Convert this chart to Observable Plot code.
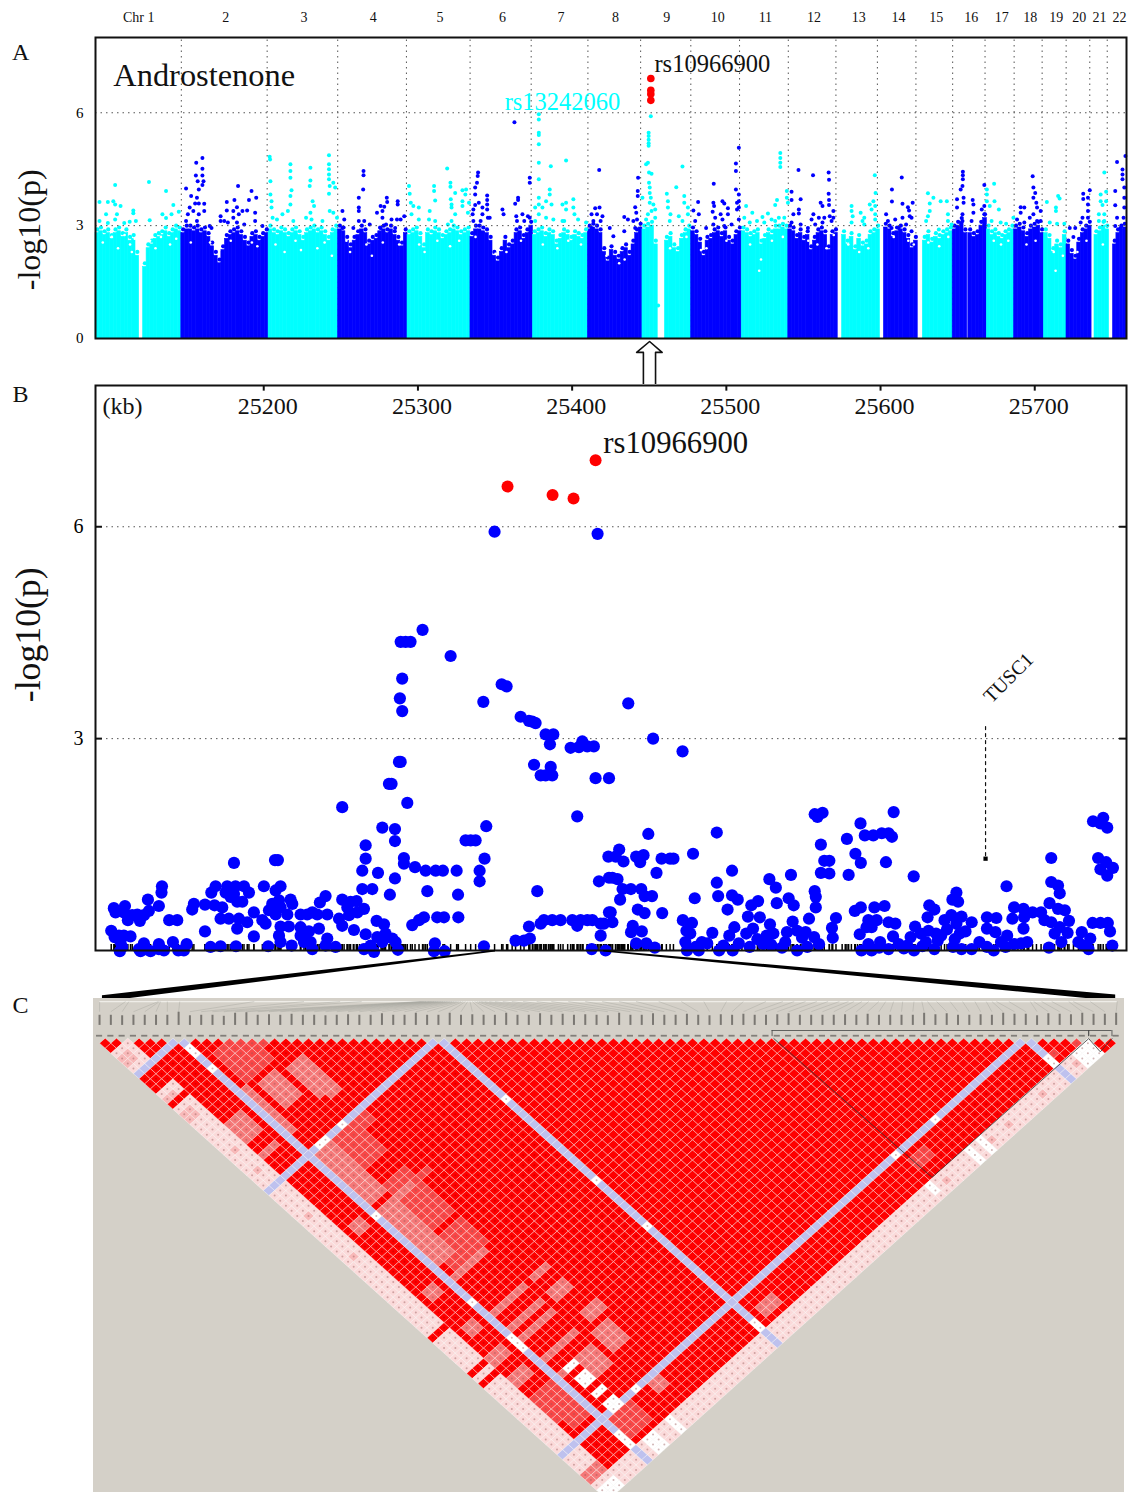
<!DOCTYPE html>
<html><head><meta charset="utf-8">
<script src="https://cdn.jsdelivr.net/npm/d3@7"></script>
<script src="https://cdn.jsdelivr.net/npm/@observablehq/plot@0.6"></script>
<style>html,body{margin:0;padding:0;background:#fff;overflow:hidden}svg{display:block;background:transparent}
#chart{position:relative;width:1129px;height:1492px;overflow:hidden}
#chart svg{position:absolute;left:0}</style>
</head><body><div id="chart"></div>
<script>
const serif = "Liberation Serif";
const CYAN = "#00FFFF", BLUE = "#0000FF", RED = "#FF0000";

// ---------- Panel A: genome position (approx. Mb along the concatenated autosomes) ----------
const chrNames = ["Chr 1","2","3","4","5","6","7","8","9","10","11","12","13","14","15","16","17","18","19","20","21","22"];
const chrLabelPos = [119,358,573,764,947,1119,1280,1430,1571,1711,1842,1976,2099,2208,2312,2408,2492,2570,2642,2705,2761,2816];
const chrBoundaries = [236,472,666,855,1030,1198,1354,1499,1637,1771,1905,2036,2150,2256,2357,2446,2526,2603,2669,2734,2782];

const chr1aTops=[2.9,2.95,2.85,2.9,2.75,2.9,2.95,2.8,2.9,2.7,2.75,2.3];
const chr1bTops=[2.0,2.5,2.6,2.75,2.8,2.85,2.95,2.8,2.9,3.0,2.95];
const chr2Tops=[2.9,3.0,3.0,2.95,3.0,2.9,2.95,2.8,2.55,2.3,2.1,2.45,2.75,2.85,2.9,2.95,2.85,2.7,2.55,2.8,2.85,2.7,2.8,2.9];
const chr3Tops=[3.0,2.9,2.85,2.95,2.9,2.8,2.9,2.95,2.85,2.7,2.9,2.95,3.0,2.9,2.95,2.85,2.7,2.9,3.0];
const chr4Tops=[3.0,2.95,2.7,2.5,2.7,2.85,3.0,2.9,2.6,2.7,2.75,2.95,3.0,2.9,3.0,2.85,2.7,2.55,2.9];
const chr5Tops=[2.85,2.9,2.95,2.8,2.5,2.9,2.85,2.95,2.9,2.75,2.85,2.9,3.0,2.95,2.85,2.9,2.95];
const chr6Tops=[2.8,3.0,3.0,2.95,2.9,2.7,2.3,2.15,2.4,2.7,2.5,2.6,2.9,2.95,2.75,2.9,3.1];
const chr7Tops=[2.85,2.9,2.95,2.8,2.9,2.85,2.6,2.75,2.9,2.85,2.7,2.85,2.8,2.75,2.9];
const chr8Tops=[3.0,3.05,3.0,2.9,2.4,2.15,2.45,2.3,2.2,2.4,2.5,2.3,2.6,2.9,3.05];
const chr9aTops=[3.0,3.05,3.1,2.6];
const chr9bTops=[2.7,2.8,2.5,2.4,2.75,2.9,3.0];
const chr10Tops=[2.95,2.85,2.65,2.3,2.7,2.75,2.9,2.95,2.8,2.95,2.7,2.6,2.85,2.95];
const chr11Tops=[2.95,2.9,2.8,2.85,2.9,2.6,2.75,2.9,2.85,3.0,3.0,3.05,3.0];
const chr12Tops=[3.0,2.95,2.75,2.9,2.7,2.85,2.45,2.7,2.9,2.95,2.85,2.45,2.85,2.9];
const chr13Tops=[2.85,2.6,2.8,2.45,2.75,2.55,2.6,2.85,2.9,3.0];
const chr14Tops=[3.05,3.0,2.8,2.95,3.0,2.9,2.75,2.5,2.7];
const chr15Tops=[2.7,2.85,2.65,2.8,2.75,2.85,2.9,2.95];
const chr16aTops=[3.0,3.1,3.2,2.9];
const chr16bTops=[2.9,2.8,2.85,3.1,3.3];
const chr17Tops=[3.0,2.85,2.9,2.8,2.75,2.85,2.9,3.0];
const chr18Tops=[3.0,3.05,2.95,2.8,3.0,3.05,3.1,2.9];
const chr19Tops=[2.9,2.75,2.4,2.6,2.5,2.85];
const chr20Tops=[2.6,2.35,2.2,2.65,2.9,3.0,3.1];
const chr21Tops=[2.85,2.95,3.1,3.0];
const chr22Tops=[2.6,2.9,3.0,3.05];
const bodySegments=[
 [0,120,CYAN,chr1aTops],[131,236,CYAN,chr1bTops],[236,476,BLUE,chr2Tops],[476,667,CYAN,chr3Tops],
 [667,858,BLUE,chr4Tops],[858,1031,CYAN,chr5Tops],[1031,1203,BLUE,chr6Tops],[1203,1354,CYAN,chr7Tops],
 [1354,1504,BLUE,chr8Tops],[1504,1546,CYAN,chr9aTops],[1566,1638,CYAN,chr9bTops],[1638,1777,BLUE,chr10Tops],
 [1777,1905,CYAN,chr11Tops],[1905,2041,BLUE,chr12Tops],[2053,2157,CYAN,chr13Tops],[2168,2261,BLUE,chr14Tops],
 [2275,2357,CYAN,chr15Tops],[2357,2397,BLUE,chr16aTops],[2400,2451,BLUE,chr16bTops],[2451,2526,CYAN,chr17Tops],
 [2526,2608,BLUE,chr18Tops],[2608,2670,CYAN,chr19Tops],[2670,2739,BLUE,chr20Tops],[2747,2787,CYAN,chr21Tops],[2798,2835,BLUE,chr22Tops]];
// gaps in the dense lower cloud, where no SNP reaches that height
const cloudHoles=[[20,2.55],[45,2.7],[62,2.4],[80,2.75],[95,2.5],[108,2.65],[100,2.3],[150,2.6],[165,2.4],[180,2.7],[205,2.5],[222,2.65],
[262,2.55],[315,2.55],[340,2.35],[372,2.6],[430,2.55],[445,2.45],[495,2.5],[520,2.3],[550,2.6],[565,2.35],[610,2.4],[630,2.55],[650,2.2],
[690,2.6],[700,2.3],[745,2.5],[760,2.2],[790,2.55],[835,2.5],[890,2.5],[905,2.3],[940,2.6],[975,2.45],[1000,2.6],[1045,2.7],[1100,2.25],[1130,2.3],[1170,2.6],
[1230,2.5],[1270,2.4],[1300,2.6],[1335,2.5],[1405,2.2],[1440,2.0],[1455,2.1],[1580,2.4],[1600,2.55],[1625,2.7],[1665,2.35],[1680,2.4],[1735,2.6],
[1800,2.5],[1830,2.1],[1825,1.8],[1860,2.6],[1890,2.7],[1960,2.6],[1985,2.5],[2010,2.4],[2030,2.75],[2070,2.5],[2100,2.3],[2125,2.4],[2195,2.7],[2235,2.6],[2250,2.5],
[2290,2.55],[2320,2.45],[2345,2.7],[2470,2.6],[2490,2.5],[2510,2.6],[2560,2.5],[2585,2.6],[2635,2.3],[2640,1.8],[2660,2.2],[2700,2.3],[2725,2.6],[2770,2.5]];

const cyanHits=[[54,4.08],[147,4.16],[194,3.92],[11,3.63],[34,3.63],[49,3.65],[54,3.56],[69,3.52],[29,3.3],[104,3.33],[104,3.4],[214,3.55],[184,3.3],[194,3.2],[209,3.3],[229,3.37],[59,3.3],[54,3.16],[79,3.07],[94,3.1],[111,3.12],[149,3.14],[11,3.12],[34,3.07],
[480,4.76],[479,4.83],[536,4.63],[536,4.45],[536,4.27],[481,4.18],[591,4.54],[591,4.2],[589,4.05],[539,3.94],[481,3.83],[484,3.65],[484,3.48],[536,3.79],[536,3.56],[642,4.87],[642,4.63],[642,4.5],[642,4.36],[642,4.23],[644,4.05],[642,3.85],[654,4.14],[659,4.01],[597,3.65],[601,3.52],[591,3.34],[529,3.39],[487,3.21],[499,3.16],[514,3.3],[544,3.12],[579,3.21],[594,3.16],[644,3.39],[654,3.34],[624,3.12],[664,3.21],
[967,4.52],[862,4.05],[864,3.85],[931,4.05],[931,3.92],[976,4.14],[976,4.03],[989,3.87],[1009,3.94],[1019,3.96],[1017,3.83],[867,3.61],[874,3.52],[889,3.48],[934,3.67],[977,3.7],[979,3.56],[1009,3.65],[1009,3.52],[1027,3.61],[919,3.39],[979,3.48],[869,3.3],[889,3.16],[917,3.16],[934,3.12],[979,3.12],[989,3.3],[1024,3.34],[969,3.03],
[1219,5.96],[1219,5.82],[1219,5.47],[1219,5.41],[1219,5.16],[1219,4.67],[1252,4.58],[1294,4.73],[1219,4.23],[1219,3.74],[1249,3.96],[1249,3.83],[1239,3.65],[1219,3.56],[1209,3.48],[1254,3.56],[1229,3.48],[1294,3.61],[1284,3.56],[1314,3.7],[1314,3.48],[1317,3.3],[1294,3.43],[1327,3.16],[1284,3.12],[1349,3.08],[1219,3.3],[1239,3.21],[1259,3.16],[1289,3.12],[1209,3.12],
[1527,5.91],[1521,5.47],[1521,5.38],[1521,5.28],[1521,5.19],[1521,5.12],[1519,4.67],[1514,4.63],[1522,4.41],[1529,4.38],[1522,4.14],[1524,4.01],[1524,3.87],[1527,3.74],[1524,3.61],[1534,3.56],[1504,3.74],[1539,3.43],[1529,3.39],[1539,3.21],[1514,3.16],[1519,3.3],[1614,4.57],[1597,4.02],[1571,3.85],[1619,3.79],[1574,3.65],[1574,3.48],[1619,3.61],[1581,3.3],[1629,3.48],[1629,3.3],[1604,3.25],[1614,3.12],[1579,3.12],[1547,0.88],
[1883,4.93],[1883,4.8],[1883,4.67],[1883,4.56],[1901,3.92],[1901,3.74],[1904,3.61],[1874,3.68],[1869,3.55],[1789,3.52],[1806,3.34],[1849,3.32],[1834,3.23],[1819,3.12],[1879,3.21],[1894,3.21],[1859,3.16],[1784,3.21],[1869,3.12],[1799,3.08],[1839,3.08],
[2143,4.34],[2145,3.87],[2139,3.65],[2129,3.56],[2144,3.52],[2134,3.43],[2144,3.3],[2079,3.52],[2079,3.39],[2082,3.25],[2104,3.34],[2114,3.21],[2144,3.16],[2109,3.12],[2079,3.08],[2114,3.03],
[2289,3.86],[2304,3.74],[2294,3.59],[2324,3.65],[2341,3.65],[2294,3.39],[2289,3.25],[2344,3.3],[2344,3.12],[2284,3.12],[2319,2.9],[2354,3.03],
[2471,4.11],[2451,3.96],[2451,3.83],[2451,3.65],[2472,3.65],[2459,3.52],[2484,3.43],[2464,3.12],[2489,3.08],[2504,3.05],[2524,3.21],
[2616,3.63],[2647,3.79],[2651,3.72],[2641,3.48],[2641,3.39],[2624,3.08],[2664,3.05],[2644,3.05],
[2774,4.41],[2779,3.9],[2764,3.83],[2764,3.65],[2779,3.65],[2769,3.55],[2759,3.3],[2774,3.3],[2759,3.12],[2774,3.12]];

const blueHits=[[294,4.8],[277,4.67],[294,4.51],[294,4.33],[276,4.33],[297,4.18],[281,4.18],[294,4.08],[249,3.99],[284,3.96],[263,3.79],[279,3.74],[259,3.48],[274,3.59],[299,3.58],[284,3.59],[269,3.39],[299,3.39],[254,3.3],[284,3.3],[249,3.12],[279,3.12],[392,4.05],[429,3.92],[382,3.68],[361,3.63],[422,3.68],[442,3.74],[389,3.49],[361,3.4],[379,3.39],[404,3.39],[417,3.4],[344,3.25],[439,3.34],[354,3.12],[379,3.21],[394,3.3],[439,3.12],[459,2.99],[319,2.94],[364,3.08],[409,3.03],[344,3.12],[314,2.99],[389,3.08],
[737,4.45],[737,4.34],[736,3.96],[724,3.74],[801,3.74],[802,3.63],[831,3.65],[831,3.56],[724,3.48],[724,3.39],[784,3.52],[794,3.5],[774,3.34],[789,3.39],[789,3.21],[679,3.39],[684,3.16],[724,3.12],[739,3.12],[754,3.03],[814,3.16],[829,3.16],[849,3.25],[839,3.16],[799,3.03],[824,2.94],[709,2.94],[679,2.94],[784,2.94],
[1052,4.41],[1051,4.32],[1049,4.14],[1044,4.01],[1044,3.83],[1077,3.8],[1077,3.68],[1077,3.56],[1054,3.61],[1044,3.55],[1077,3.43],[1039,3.43],[1064,3.48],[1037,3.3],[1064,3.3],[1079,3.21],[1039,3.12],[1059,3.12],[1084,3.21],[1119,3.43],[1122,3.3],[1152,5.75],[1194,4.27],[1194,4.14],[1162,3.74],[1162,3.68],[1154,3.58],[1157,3.25],[1174,3.3],[1189,3.25],[1159,3.12],[1179,3.12],[1194,3.21],
[1385,4.48],[1492,4.27],[1491,3.92],[1491,3.79],[1484,3.49],[1487,3.34],[1374,3.46],[1386,3.48],[1364,3.3],[1379,3.3],[1394,3.25],[1369,3.12],[1389,3.12],[1454,3.23],[1464,3.16],[1489,3.16],[1479,3.12],[1414,2.94],[1424,2.72],[1454,2.85],[1484,2.94],[1364,2.94],
[1769,5.07],[1761,4.65],[1761,4.45],[1700,4.11],[1761,3.96],[1769,3.83],[1657,3.63],[1699,3.61],[1724,3.65],[1729,3.59],[1769,3.65],[1701,3.52],[1764,3.61],[1644,3.4],[1739,3.46],[1769,3.48],[1697,3.37],[1659,3.3],[1719,3.3],[1764,3.43],[1704,3.21],[1724,3.16],[1739,3.3],[1769,3.16],[1649,3.12],[1699,3.03],[1679,2.94],[1729,2.99],[1749,3.03],
[1933,4.48],[1973,4.34],[2016,4.41],[2017,4.22],[1914,3.9],[2016,3.85],[1914,3.68],[1939,3.7],[2017,3.68],[2017,3.55],[1994,3.61],[1999,3.52],[1934,3.43],[1934,3.32],[2029,3.39],[1974,3.3],[2019,3.25],[1914,3.08],[1989,3.21],[2004,3.21],[1969,3.16],[2029,3.21],[1919,3.3],[1959,2.94],[1979,3.03],[1999,3.08],[1939,3.03],[2024,3.12],
[2217,4.28],[2190,3.96],[2190,3.64],[2219,3.58],[2247,3.61],[2234,3.49],[2237,3.4],[2174,3.3],[2239,3.25],[2199,3.16],[2219,3.21],[2244,3.21],[2179,3.12],[2229,3.03],[2189,2.94],[2209,2.94],[2244,2.85],
[2385,4.43],[2385,4.34],[2385,4.23],[2379,3.96],[2384,4.05],[2369,3.7],[2387,3.74],[2387,3.61],[2369,3.48],[2384,3.3],[2384,3.12],[2412,3.68],[2414,3.56],[2414,3.34],[2409,3.12],[2444,4.08],[2444,3.52],[2437,3.43],[2444,3.3],[2444,3.12],
[2577,4.31],[2579,4.01],[2584,3.87],[2579,3.74],[2587,3.61],[2544,3.49],[2554,3.48],[2544,3.34],[2589,3.48],[2579,3.3],[2599,3.39],[2569,3.21],[2534,3.16],[2589,3.12],[2554,3.08],[2599,3.12],
[2716,3.85],[2734,3.94],[2716,3.71],[2729,3.74],[2729,3.56],[2729,3.39],[2714,3.21],[2729,3.21],[2709,3.08],[2679,2.94],[2694,2.94],[2689,2.7],
[2832,4.85],[2809,4.69],[2824,4.49],[2824,4.36],[2824,4.23],[2829,4.01],[2804,3.92],[2829,3.74],[2804,3.54],[2829,3.48],[2809,3.21],[2827,3.21],[2804,2.99],[2819,2.94]];

const redHitsA=[[1527,6.91],[1527,6.6],[1527,6.5],[1527,6.33]];
const arrowShape=[[1506.6,-1.27],[1506.6,-0.37],[1488,-0.37],[1523.6,-0.08],[1558,-0.37],[1540,-0.37],[1540,-1.27]];

// ---------- Panel B: position in kb along chromosome 9 ----------
const kbOrigin=25003.1;                   // the values in pointsB are kb past this position
const kbTicks=[25200,25300,25400,25500,25600,25700];
const pointsB=[[98,.28],[100.2,.19],[103,.21],[106.2,.21],[110.5,.2],[104,.12],[105.1,.05],[103.6,-.01],[99.7,.6],[100.8,.54],[106.9,.63],[106.2,.54],[108.8,.43],[111.6,.5],[114.9,.51],[116.6,.42],[119.2,.5],[122.4,.56],[121.8,.72],[128.9,.63],[130.9,.91],[130.6,.82],[116,.02],[119.2,.1],[120.3,.02],[128.9,.09],[117,-.01],[123.5,-.01],[128.9,.02],[132.2,0],[135.6,.43],[140.8,.43],[138,.12],[141.5,0],[145.1,0],[146.9,.09],[150.5,.58],[151.6,.66],[158.8,.65],[158.8,.27],[162.4,.05],[168.9,.06],[177.6,1.24],[162.9,.82],[165.7,.91],[165,.64],[170,.61],[173.2,.91],[178.6,.91],[184.1,.91],[187.3,.82],[172.2,.82],[175.4,.76],[179.7,.69],[183,.69],[177.6,.8],[168.9,.45],[174.3,.45],[180.8,.45],[186.2,.4],[179.7,.31],[178.9,.06],[190.5,.2],[190.5,.54],[197,.91],[196,.43],[198.1,.38],[199.8,.06],[204.6,.85],[207.8,.91],[202.4,.66],[200.3,.57],[206.8,.71],[214.3,.72],[215.4,.66],[207.8,.61],[212.2,.51],[204.6,.51],[207.8,.34],[213.2,.34],[206.8,.21],[207.8,.12],[215,.07],[204.2,1.28],[206.1,1.28],[220.8,.51],[225.1,.51],[228.4,.54],[231.6,.51],[238.1,.51],[233.3,.68],[237,.77],[220.8,.33],[226.2,.27],[232.7,.31],[220.8,.21],[224,.17],[227.3,.12],[223,.12],[228.4,.02],[238.1,.17],[237,.07],[243.5,.05],[247.8,.72],[253.2,.69],[257.1,.7],[251.1,.61],[257.6,.54],[261.9,.59],[245.7,.45],[252.2,.5],[247.8,.35],[255.4,.29],[263,.23],[261.9,.02],[268.4,-.02],[266.2,.07],[270.5,.19],[270.1,.42],[274.9,.37],[275.9,.24],[280.3,.17],[282.4,.12],[283.9,.01],[273.8,.12],[260.8,.87],[267.3,.87],[260.8,1.13],[271,1.1],[263,1.3],[263,1.49],[247.8,2.03],[273.8,1.74],[282,1.72],[282,1.55],[282,1.02],[278.7,.79],[279.8,2.36],[278.1,2.36],[290,2.09],[286.7,3.39],[285.2,3.57],[286.7,3.85],[285.7,2.67],[284.6,2.67],[287.8,1.31],[287.8,1.23],[295,1.18],[301.9,1.13],[308.4,1.13],[313.1,1.13],[322,1.13],[303,.84],[322.9,.79],[323.1,.47],[293.2,.36],[297.6,.43],[300.8,.47],[309.4,.47],[313.8,.47],[307.9,.1],[307.3,-.01],[314.2,-.01],[327.8,1.56],[331.1,1.56],[334.3,1.56],[341.2,1.76],[340.1,1.3],[336.9,1.13],[336.9,.98],[339.7,.06],[318.1,4.17],[285.7,4.37],[288.9,4.37],[292.1,4.37],[299.9,4.54],[339.3,3.52],[351.2,3.77],[354.4,3.74],[363.5,3.31],[368.9,3.25],[371.1,3.24],[373.2,3.22],[379.7,3.06],[384.7,3.06],[382.5,2.92],[372.2,2.63],[383,2.6],[376.5,2.48],[379.7,2.48],[384,2.48],[395.9,2.87],[401.3,2.88],[403.5,2.96],[406.7,2.89],[411,2.89],[412.1,2.44],[420.8,2.44],[400.2,1.9],[374.3,.84],[420.4,1.33],[414.3,.98],[420.8,1.03],[368.9,.34],[376.5,.38],[378.6,.43],[384,.43],[389.4,.43],[397,.43],[402.4,.43],[406.7,.43],[410,.43],[415.4,.38],[420.8,.54],[400.2,.35],[415.4,.21],[360.2,.14],[365.7,.14],[369.5,.17],[409.6,.02],[418.6,0],[346.6,5.93],[413.4,5.9],
[433.3,3.5],[449.4,3],[468.5,2.82],[446.3,1.65],[490.7,1.67],[427.4,1.43],[425.2,1.33],[430.2,1.26],[438.4,1.33],[443.2,1.35],[441,1.25],[454.9,1.3],[460.4,1.3],[462.6,1.3],[475.3,1.37],[451.6,1.1],[423,1.03],[426.3,1.01],[429.6,.87],[435,.87],[441.7,.87],[443.9,.77],[448.7,.77],[428,.72],[439.5,.58],[443.9,.53],[455.3,.53],[421.9,.54],[423,.4],[417.5,.38],[436.2,.35],[435.1,.26],[442.1,.27],[438.4,.1],[445,.1],[450.5,.04],[500.6,1.13],[490.7,.96],[491.6,.77],[476.4,.74],[500.6,.78],[504.3,.72],[497.7,.58],[468.7,.43],[474.6,.39],[473.5,.24],[470.3,.12],[471.4,0],[479,0],[487.8,.25],[484.5,.1],[492.2,0],[501,0],[502.1,.33],[498.8,.21],[510.9,.48],[513.1,.64],[517.5,.7],[518.6,.47],[509.8,.24],[514.2,.31],[525.2,.37],[520.8,.09],[523,.21],[527.4,.24],[529.6,.67],[524.8,1.01],[529,.89],[538.8,1.07],[537.3,.74],[540.6,.64],[539.9,.41],[536.2,.26],[542.8,.28],[535.1,.12],[542.8,0],[549.4,.05],[548.3,.26],[553.8,.19],[550.5,.45],[554.9,.61],[554.2,.84],[554.9,.76],[554.2,1.93],[556,1.89],[559.3,1.95],[558.2,1.5],[558.2,1.1],[563.7,1.09],[560.4,1.27],[563.7,1.27],[568,.46],[565.4,.32],[565.9,.18],[575.1,1.58],[583.9,1.8],[586.7,1.63],[592.2,1.63],[597.7,1.66],[602.1,1.66],[604.3,1.61],[605.4,1.96],[580.6,1.37],[584.1,1.24],[600.4,1.25],[576.2,1.07],[580.2,.56],[584.1,.61],[592.9,.61],[599.5,.63],[589,.43],[594.4,.43],[602.1,.4],[606.5,.38],[587.8,.33],[583.4,.23],[591.1,.33],[584.5,0],[589,.09],[596.6,.12],[591.1,0],[602.1,.02],[608.7,.09],[614.2,.07],[618.4,1.05],[619.3,.34],[618.6,0],[616.4,.19],[623,.24],[627.4,.47],[628.5,.64],[631.8,.58],[646.1,.82],[643.5,.72],[647.2,.69],[632.9,.24],[631.8,.02],[626.3,.12],[638.4,.43],[642.8,.5],[649.4,.48],[656,.4],[646.1,.38],[648.3,.24],[643.9,.05],[649.4,.02],[656,.02],[636.2,.21],[665.9,.47],[672,.46],[665.9,.31],[671.4,.26],[665.9,.05],[670.3,0],[679,.21],[678,.05],[683.5,.09],[678.6,.91],[683.5,.61],[682.4,.45],[689.6,.59],[690,.47],[695.5,.54],[701,.54],[703.2,.43],[707.6,.4],[689.6,.31],[707.6,1.31],[707.6,.97],[712,.92],[713.1,.81],[706.5,.67],[712,.59],[716.4,.57],[719.1,.42],[709.8,.24],[713.1,.33],[718.2,.25],[714.2,.12],[706.1,.04],[727.4,.26],[732.9,.17],[725.2,.12],[731.8,.02],[728.5,.07],[734.4,.39],[739.5,.39],[744.3,.39],[745.7,.27],[747.2,.07],[734.7,1.83],[741.3,1.88],[739.5,1.8],[743.9,1.74],[738,1.31],[743.2,1.25],[747.6,1.17],[739.5,1.15],[743.9,1.06],
[471,.28],[477,.05],[481,.12],[495,.07],[505,.1],[512,.05],[517,.16],[526,.08],[533,.04],[546,.18],[557,.09],[596,.04],[605,.2],[612,.03],[624,.06],[628,.28],[634,.14],[640,.3],[645,.16],[652,.27],[661,.12],[675,.12],[688,.1],[692,.12]];
const redPointsB=[[355,6.57],[384.2,6.45],[397.8,6.4],[412.1,6.94]];
const extraRugSnps=[249,251,253,255,257,259,261,263,265,267,269,271,273,275,352,355,358,374,375.5,377,378.5,380,381.5,383,385,388,391,394,398,404,408,416,417.5,419,421,423,425,427,429,431,433,436,441,445,452,458,507,512,533,545,551,556,572,574,578,582,586,595,610,612,622,652,660,675,686,693,698,716,722];
const geneStem=[[665,3.17],[665,1.3]];
const wedgeLeft=[[25095.4,-0.64,-0.73],[25350.3,0,-0.02]];
const wedgeRight=[[25420.5,0,-0.02],[25752.5,-0.63,-0.72]];

// ---------- Panel C: pairwise LD, SNP index i < j, 91 SNPs ----------
const snpCount=91;
const noDataSnps=[7,30,82];
const palePatches=[[0,2,3,6],[0,2,11,12],[0,2,14,29],[0,2,31,58],[0,2,60,65],[0,2,67,67],[0,2,69,81],[0,2,83,85],[0,2,88,88],[3,84,88,90]];
const softPinkPatches=[[0,1,4,5],[0,1,12,12],[0,1,15,16],[1,1,23,23],[1,1,27,27],[1,1,36,36],[1,1,44,44],[84,84,89,89],[72,72,89,89],[78,78,89,89],[61,61,89,89],[68,69,89,89]];
const mediumPatches=[[14,16,20,25],[10,12,19,23],[8,8,18,26],[3,5,20,23],[15,16,25,26],[3,5,26,26],[8,10,31,40],[8,13,42,42],[8,10,43,52],[4,5,41,42],[8,13,55,55],[8,13,62,62],[8,13,65,65],[8,13,67,67],[15,17,62,62],[15,17,65,66],[8,13,71,71],[8,13,74,74],[16,18,70,71],[15,17,73,76],[11,13,75,77],[15,16,83,84],[32,34,85,86],[4,5,54,55],[4,5,61,62],[3,5,66,67],[3,5,70,71],[0,2,86,87]];
const faintPatches=[[9,13,12,17],[13,14,14,15],[15,16,31,32],[15,16,42,42],[83,83,86,86],[86,86,87,87],[11,14,31,36],[11,14,40,48],[3,6,74,78],[4,6,79,80],[8,11,83,86],[60,62,84,85],[9,14,50,54]];
const whitePatches=[[7,7,9,10],[7,7,13,13],[7,7,42,42],[7,7,59,59],[7,7,66,68],[7,7,85,87],[13,13,30,30],[9,10,30,30],[30,30,42,42],[30,30,58,58],[30,30,67,67],[30,30,86,87],[59,59,82,82],[66,66,82,82],[82,82,86,87],[13,13,82,82],[9,10,74,74],[9,10,76,77],[9,10,79,79],[9,10,81,82],[59,59,88,89],[66,66,88,90],[68,68,88,90],[13,13,88,90],[9,10,88,90],[85,87,88,90],[0,2,89,90]];
const smudgePatches=[[0,29,8,81],[3,29,83,87],[60,81,83,87]];
const snpTopPos=[-0.5,1.8,2.1,4.7,4.8,4.9,5.5,6.6,13.2,17.6,20.8,22.7,28.0,28.2,28.4,28.7,28.9,29.1,29.3,29.5,29.7,29.9,30.1,30.3,30.5,30.7,30.9,31.1,31.3,31.5,31.7,31.9,32.1,32.3,32.5,32.7,32.9,33.1,33.3,33.6,34.0,34.5,35.2,36.0,37.0,38.2,39.5,41.0,42.5,44.0,45.5,47.0,49.0,51.0,53.0,55.0,56.5,58.5,60.0,61.0,62.0,63.0,64.0,65.0,65.8,66.3,67.0,67.6,68.5,69.1,69.8,70.6,71.6,72.3,72.8,73.6,74.8,75.9,77.0,78.0,78.5,78.9,80.0,81.9,82.2,82.9,83.8,85.3,85.7,87.2,89.6];
const snpNameLen=[2,2,1.9,2,2,2,2,2.6,1.9,2,2,1.8,2.4,2.5,2,2.1,2,2.2,2,2,1.9,2,2.1,2,2,2.3,2,2,2.4,2,2,2.4,2,2.1,2,2,2.4,2,2,2.3,2,2.2,2,2.1,2,1.9,2.4,2,2,2.3,2,2,2.2,2,1.9,2.1,2,2.2,2,2,2.1,2.3,2,2,2,2,2.1,2,2.2,2,2,2,2,2.4,2.1,2.3,2,2,2.1,2,2.4,2.2,2.2,1.9,2.3,2.2,2.1,2.4,2.2,2.2,2.4];
const blockOutline=[[59.2,-0.9],[73.2,26.4],[87.07,-0.9],[88.1,1.7],[89.13,-0.9]];
const blockBrackets=[[59.04,87.07],[87.07,89.13]];
const stripBracket=[[-8.2,-6.2],[-3.5],[-1.55,-1.2]];

const tone={red:RED,faint:"#F94646",medium:"#F57878",soft:"#F8B9B9",pale:"#FBDADA",white:"#FFFFFF",nodata:"#BEC1EE"};

// ---------- helpers ----------
const label=(x,y,t,o={})=>Plot.text([{x,y,t}],{x:"x",y:"y",text:"t",fontFamily:serif,fill:"#111",...o});
const xy=()=>({x:d=>d[0],y:d=>d[1]});
const dotted={stroke:"#555",strokeDasharray:"1.5,4",strokeWidth:1};

// ---------- Panel A ----------
const bodyBins=bodySegments.flatMap(([s,e,c,tops])=>tops.map((t,k)=>{
  const w=(e-s)/tops.length;
  return {x1:s+k*w,x2:s+(k+1)*w,xc:s+(k+.5)*w,t,c};
}));
const chrLabels=chrNames.map((t,k)=>({t,x:chrLabelPos[k]}));
const panelA=Plot.plot({
  width:1129,height:384,marginLeft:95,marginRight:3,marginTop:37,marginBottom:46,
  style:{background:"transparent"},
  x:{domain:[0,2835],axis:null},y:{domain:[0,8],axis:null},
  marks:[
    Plot.ruleX(chrBoundaries,{y1:0,y2:8,...dotted}),
    Plot.rect(bodyBins,{x1:"x1",x2:"x2",y1:0,y2:d=>d.t-.1,fill:"c",stroke:"c",strokeWidth:.6}),
    Plot.dot(bodyBins,{x:"xc",y:"t",r:2.1,fill:"c"}),
    Plot.dot(cloudHoles,{...xy(),r:1.3,fill:"#fff"}),
    Plot.dot(cyanHits,{...xy(),r:2,fill:CYAN}),
    Plot.dot(blueHits,{...xy(),r:2,fill:BLUE}),
    Plot.dot(redHitsA,{...xy(),r:3.8,fill:RED}),
    Plot.ruleY([3,6],dotted),
    Plot.frame({stroke:"#111",strokeWidth:2}),
    Plot.axisY({anchor:"left",ticks:[0,3,6],tickSize:0,tickPadding:12,fontSize:15,fontFamily:serif,label:null,tickFormat:d3.format("d")}),
    Plot.text(chrLabels,{x:"x",y:8.52,text:"t",fontSize:14,fontFamily:serif,fill:"#111"}),
    label(49,6.98,"Androstenone",{textAnchor:"start",fontSize:32.4}),
    label(1537,7.3,"rs10966900",{textAnchor:"start",fontSize:24.5}),
    label(1125,6.29,"rs13242060",{textAnchor:"start",fontSize:24.5,fill:CYAN}),
    label(-206,7.6,"A",{fontSize:24}),
    label(-182,2.89,"-log10(p)",{rotate:-90,fontSize:32}),
    Plot.line(arrowShape,{...xy(),stroke:"#111",strokeWidth:1.6,fill:"none"})
  ]
});

// ---------- Panel B ----------
const toKb=([o,y])=>({kb:kbOrigin+o,y});
const blueB=pointsB.map(toKb), redB=redPointsB.map(toKb);
const rugKb=[...blueB.map(d=>d.kb),...redB.map(d=>d.kb),...extraRugSnps.map(o=>kbOrigin+o)];
const geneLine=geneStem.map(toKb);
const wedge=(a)=>Plot.areaY(a,{x:d=>d[0],y1:d=>d[1],y2:d=>d[2],fill:"#000"});
const panelB=Plot.plot({
  width:1129,height:628,marginLeft:95,marginRight:3,marginTop:15,marginBottom:48,
  style:{background:"transparent"},
  x:{domain:[25090.9,25759.5],axis:null},y:{domain:[0,8],axis:null},
  marks:[
    Plot.ruleY([3,6],dotted),
    Plot.ruleX(rugKb,{y1:0,y2:.085,stroke:"#000",strokeWidth:1.5}),
    Plot.ruleX(kbTicks,{y1:8,y2:7.92,stroke:"#111",strokeWidth:2}),
    Plot.ruleY([3,6],{x1:25090.9,x2:25095.4,stroke:"#111",strokeWidth:2}),
    Plot.ruleY([3,6],{x1:25755,x2:25759.5,stroke:"#111",strokeWidth:2}),
    Plot.dot(blueB,{x:"kb",y:"y",r:6.1,fill:BLUE}),
    Plot.dot(redB,{x:"kb",y:"y",r:6,fill:RED}),
    Plot.line(geneLine,{x:"kb",y:"y",stroke:"#111",strokeWidth:1.2,strokeDasharray:"3,4"}),
    Plot.dot(geneLine.slice(1),{x:"kb",y:"y",symbol:"square",r:2.4,fill:"#000"}),
    label(25683,3.86,"TUSC1",{rotate:-45,fontSize:20}),
    Plot.frame({stroke:"#111",strokeWidth:2}),
    Plot.axisY({anchor:"left",ticks:[3,6],tickSize:0,tickPadding:12,fontSize:20,fontFamily:serif,label:null,tickFormat:d3.format("d")}),
    Plot.text(kbTicks,{x:d=>d,y:7.7,dx:4,text:d=>String(d),fontSize:24,fontFamily:serif,fill:"#111"}),
    label(25095.4,7.7,"(kb)",{textAnchor:"start",fontSize:24}),
    label(25420.2,7.19,"rs10966900",{textAnchor:"start",fontSize:30.7}),
    label(25042.3,7.88,"B",{fontSize:24}),
    label(25047.4,4.47,"-log10(p)",{rotate:-90,fontSize:35.7}),
    wedge(wedgeLeft),wedge(wedgeRight)
  ]
});

// ---------- Panel C ----------
const cellTone=new Map();
const key=(i,j)=>i*1000+j;
const paint=(patches,name)=>{for(const [i0,i1,j0,j1] of patches)for(let i=i0;i<=i1;i++)for(let j=Math.max(j0,i+1);j<=j1;j++)cellTone.set(key(i,j),name);};
paint(palePatches,"pale");paint(softPinkPatches,"soft");paint(faintPatches,"faint");paint(mediumPatches,"medium");
const isLavender=(i,j)=>noDataSnps.includes(i)||noDataSnps.includes(j);
const cells=[];
for(let i=0;i<snpCount-1;i++)for(let j=i+1;j<snpCount;j++){
  let name=cellTone.get(key(i,j))||"red";
  if(isLavender(i,j))name="nodata";
  cells.push({i,j,u:(i+j-1)/2,v:j-i-1,name});
}
const whiteSet=new Set();
for(const [i0,i1,j0,j1] of whitePatches)for(let i=i0;i<=i1;i++)for(let j=j0;j<=j1;j++)whiteSet.add(key(i,j));
for(const c of cells)if(whiteSet.has(key(c.i,c.j)))c.name="white";
const inPatch=(c)=>smudgePatches.some(([a,b,p,q])=>c.i>=a&&c.i<=b&&c.j>=p&&c.j<=q);
const smudges=cells.filter(c=>c.name!=="nodata"&&(c.name!=="red"||inPatch(c)));
const diamond={draw(ctx){ctx.moveTo(0,-5.08);ctx.lineTo(5.648,0);ctx.lineTo(0,5.08);ctx.lineTo(-5.648,0);ctx.closePath();}};
const snps=snpTopPos.map((t,k)=>({k,t,u:k-.5,len:snpNameLen[k]}));
const uMin=-1.036,uMax=90.24,vMin=-8.8,vMax=88.44;
const panelC=Plot.plot({
  width:1129,height:507,margin:0,
  style:{background:"transparent"},
  x:{domain:[uMin,uMax],range:[93,1124],axis:null},y:{domain:[vMin,vMax],range:[13,507],axis:null},
  marks:[
    Plot.rect([0],{x1:uMin,x2:uMax,y1:vMin,y2:vMax,fill:"#D4D0C8"}),
    Plot.ruleY([stripBracket[0][0]],{x1:-.5,x2:89.6,stroke:"#EFEDE8",strokeWidth:1.2}),
    Plot.link(snps,{x1:"t",y1:stripBracket[0][0],x2:"u",y2:stripBracket[0][1],stroke:"#a5a39c",strokeWidth:.4}),
    Plot.ruleX(snps,{x:"u",y1:stripBracket[1][0],y2:d=>stripBracket[1][0]-d.len,stroke:"#5c5a56",strokeWidth:2,strokeOpacity:.75}),
    Plot.rect(snps,{x1:d=>d.u-.27,x2:d=>d.u+.27,y1:stripBracket[2][0],y2:stripBracket[2][1],fill:"#4a4845",fillOpacity:.6}),
    Plot.dot(cells,{x:"u",y:"v",r:1,symbol:diamond,fill:d=>tone[d.name],stroke:"#FFFFFF",strokeOpacity:.55,strokeWidth:.7}),
    Plot.dot(smudges,{x:"u",y:"v",r:1,fill:d=>d.name==="red"?"#8c0000":"#9a5a5a",fillOpacity:d=>d.name==="red"?.3:.45}),
    Plot.line(blockOutline,{...xy(),stroke:"#333",strokeWidth:.8}),
    Plot.ruleY(blockBrackets,{x1:d=>d[0],x2:d=>d[1],y:-2.5,stroke:"#444",strokeWidth:.8}),
    Plot.ruleX(blockBrackets.flat(),{y1:-2.5,y2:-1.3,stroke:"#444",strokeWidth:.8}),
    label(-7.5,-7.42,"C",{fontSize:24})
  ]
});
const host=document.getElementById("chart");
panelA.style.top="0px";panelB.style.top="370px";panelC.style.top="985px";
host.append(panelA,panelB,panelC);
</script></body></html>
